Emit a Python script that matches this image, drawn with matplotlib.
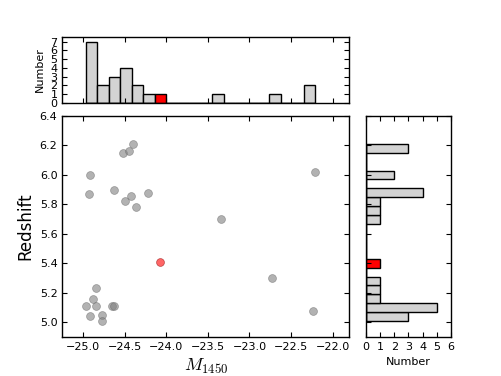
import matplotlib
matplotlib.use('Agg')
import matplotlib.pyplot as plt
import numpy as np

# Quasar sample: absolute magnitude and redshift
mag = [-24.52, -24.448, -24.40, -24.92, -24.928, -24.632, -24.50, -24.42,
       -24.36, -24.22, -23.344, -22.732, -22.208, -22.236, -24.84, -24.88,
       -24.968, -24.84, -24.92, -24.772, -24.772, -24.648, -24.632]
zred = [6.15, 6.16, 6.21, 6.00, 5.87, 5.90, 5.82, 5.86,
        5.78, 5.88, 5.70, 5.30, 6.02, 5.075, 5.23, 5.16,
        5.11, 5.11, 5.04, 5.05, 5.01, 5.11, 5.11]

# Highlighted object
mag_new = [-24.072]
z_new = [5.41]

mag = np.array(mag)
zred = np.array(zred)

plt.rcParams['xtick.direction'] = 'in'
plt.rcParams['ytick.direction'] = 'in'
plt.rcParams['xtick.top'] = True
plt.rcParams['ytick.right'] = True
plt.rcParams['axes.linewidth'] = 1.0
plt.rcParams['mathtext.fontset'] = 'cm'

fig = plt.figure(figsize=(5.01, 3.76), dpi=100)
ax = fig.add_axes([0.1244, 0.1037, 0.5728, 0.5878])
axt = fig.add_axes([0.1244, 0.727, 0.5728, 0.1738], sharex=ax)
axr = fig.add_axes([0.731, 0.1037, 0.1686, 0.5878], sharey=ax)

# scatter
ax.scatter(mag, zred, s=32, c='gray', alpha=0.6, edgecolors='dimgray', linewidths=0.5)
ax.scatter(mag_new, z_new, s=32, c='red', alpha=0.6, edgecolors='darkred', linewidths=0.5)
ax.set_xlim(-25.25, -21.8)
ax.set_ylim(4.9, 6.4)
ax.set_xticks(np.arange(-25.0, -21.9, 0.5))
ax.set_yticks(np.arange(5.0, 6.41, 0.2))
ax.tick_params(labelsize=8)
ax.set_xlabel('$M_{1450}$', fontsize=13)
ax.set_ylabel('Redshift', fontsize=12)

# top histogram
mbins = np.linspace(mag.min(), mag.max(), 21)
axt.hist(mag, bins=mbins, color='lightgray', edgecolor='black', linewidth=1)
axt.hist(mag_new, bins=mbins, color='red', edgecolor='black', linewidth=1)
axt.set_ylim(0, 7.5)
axt.set_yticks(range(0, 8))
axt.tick_params(labelsize=8, labelbottom=False)
axt.set_ylabel('Number', fontsize=8)

# right histogram
zbins = np.linspace(zred.min(), zred.max(), 21)
axr.hist(zred, bins=zbins, orientation='horizontal', color='lightgray',
         edgecolor='black', linewidth=1)
axr.hist(z_new, bins=zbins, orientation='horizontal', color='red',
         edgecolor='black', linewidth=1)
axr.set_xlim(0, 6)
axr.set_xticks(range(0, 7))
axr.tick_params(labelsize=8, labelleft=False)
axr.set_xlabel('Number', fontsize=8)

fig.savefig('out.png', dpi=100)
